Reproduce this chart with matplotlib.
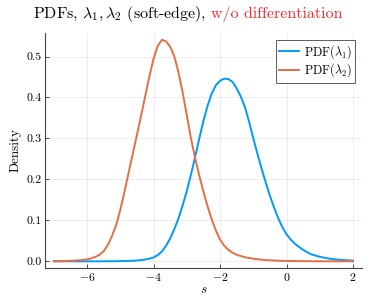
import matplotlib
matplotlib.use("Agg")
import matplotlib.pyplot as plt

# s grid and densities
s_vals = [-7.0, -6.75, -6.5, -6.25, -6.125, -6.0, -5.875, -5.75, -5.625, -5.5,
          -5.375, -5.25, -5.125, -5.0, -4.875, -4.75, -4.625, -4.5, -4.375, -4.25,
          -4.125, -4.0, -3.875, -3.75, -3.625, -3.5, -3.375, -3.25, -3.125, -3.0,
          -2.875, -2.75, -2.625, -2.5, -2.375, -2.25, -2.125, -2.0, -1.875, -1.75,
          -1.625, -1.5, -1.375, -1.25, -1.125, -1.0, -0.875, -0.75, -0.625, -0.5,
          -0.375, -0.25, -0.125, 0.0, 0.125, 0.25, 0.375, 0.5, 0.625, 0.75,
          0.875, 1.0, 1.25, 1.5, 1.75, 2.0]

pdf_lambda1 = [0.0, 0.0, 0.0, 0.0, 0.0, 0.0, 0.0, 0.0, 0.0, 0.0001,
               0.0001, 0.0002, 0.0003, 0.0005, 0.0007, 0.001, 0.0014, 0.002, 0.003, 0.0045,
               0.0065, 0.0095, 0.015, 0.024, 0.038, 0.056, 0.079, 0.105, 0.137, 0.172,
               0.212, 0.255, 0.300, 0.343, 0.380, 0.410, 0.430, 0.441, 0.446, 0.445,
               0.438, 0.422, 0.402, 0.376, 0.340, 0.300, 0.262, 0.226, 0.192, 0.160,
               0.131, 0.105, 0.083, 0.066, 0.053, 0.043, 0.035, 0.028, 0.022, 0.017,
               0.014, 0.011, 0.007, 0.0045, 0.0028, 0.0017]

pdf_lambda2 = [0.0002, 0.0005, 0.0012, 0.0025, 0.0035, 0.005, 0.0072, 0.011, 0.016, 0.025,
               0.040, 0.062, 0.089, 0.126, 0.170, 0.217, 0.263, 0.309, 0.356, 0.404,
               0.452, 0.495, 0.526, 0.541, 0.537, 0.524, 0.500, 0.461, 0.412, 0.356,
               0.300, 0.252, 0.209, 0.170, 0.134, 0.102, 0.075, 0.053, 0.038, 0.028,
               0.021, 0.016, 0.013, 0.010, 0.008, 0.0065, 0.005, 0.004, 0.003, 0.0025,
               0.002, 0.0015, 0.0012, 0.001, 0.0008, 0.0006, 0.0005, 0.0004, 0.0003, 0.0002,
               0.0002, 0.0001, 0.0, 0.0, 0.0, 0.0]

series_labels = [r"PDF($\lambda_1$)", r"PDF($\lambda_2$)"]
x_ticks = [-6, -4, -2, 0, 2]
y_ticks = [0.0, 0.1, 0.2, 0.3, 0.4, 0.5]

title_main = r"PDFs, $\lambda_1, \lambda_2$ (soft-edge),"
title_note = "w/o differentiation"

plt.rcParams['mathtext.fontset'] = 'cm'
plt.rcParams['font.family'] = 'serif'
plt.rcParams['font.serif'] = ['cmr10', 'DejaVu Serif']
plt.rcParams['axes.formatter.use_mathtext'] = True

fig = plt.figure(figsize=(3.74, 2.96), dpi=100)
ax = fig.add_axes([0.120, 0.0946, 0.848, 0.794])

ax.plot(s_vals, pdf_lambda1, color='#009AFA', lw=1.4, label=series_labels[0])
ax.plot(s_vals, pdf_lambda2, color='#E36F47', lw=1.4, label=series_labels[1])

ax.set_xlim(-7.27, 2.27)
ax.set_ylim(-0.0163, 0.5575)
ax.set_xticks(x_ticks)
ax.set_yticks(y_ticks)
ax.set_yticklabels([f"{v:.1f}" for v in y_ticks])
ax.tick_params(direction='in', length=3, width=0.6, labelsize=8.5, colors='#333333',
               labelcolor='black', pad=2.5)
ax.grid(True, color='black', alpha=0.08, lw=0.6)

for side in ['top', 'right']:
    ax.spines[side].set_visible(False)
for side in ['left', 'bottom']:
    ax.spines[side].set_color('#444444')
    ax.spines[side].set_linewidth(0.8)

ax.set_xlabel(r"$s$", fontsize=9.5, labelpad=0)
ax.set_ylabel("Density", fontsize=9.5, labelpad=3)

leg = ax.legend(loc='upper right', fontsize=8.8, frameon=True, fancybox=False,
                handlelength=1.6, handletextpad=0.4, borderpad=0.25,
                labelspacing=0.05, borderaxespad=0.6)
leg.get_frame().set_edgecolor('#333333')
leg.get_frame().set_linewidth(0.7)

# two-colour title, centred as one line
ty = 1 - 14 / 296
fs_title = 11.5
t1 = fig.text(0, ty, title_main, ha='left', va='center', fontsize=fs_title)
t2 = fig.text(0, ty, title_note, ha='left', va='center', fontsize=fs_title, color='#F0262E')
fig.canvas.draw()
r = fig.canvas.get_renderer()
gap = 5 / fig.bbox.width
w1 = t1.get_window_extent(r).width / fig.bbox.width
w2 = t2.get_window_extent(r).width / fig.bbox.width
x0 = 0.503 - (w1 + gap + w2) / 2
t1.set_x(x0)
t2.set_x(x0 + w1 + gap)

fig.savefig("out.png", dpi=100)
